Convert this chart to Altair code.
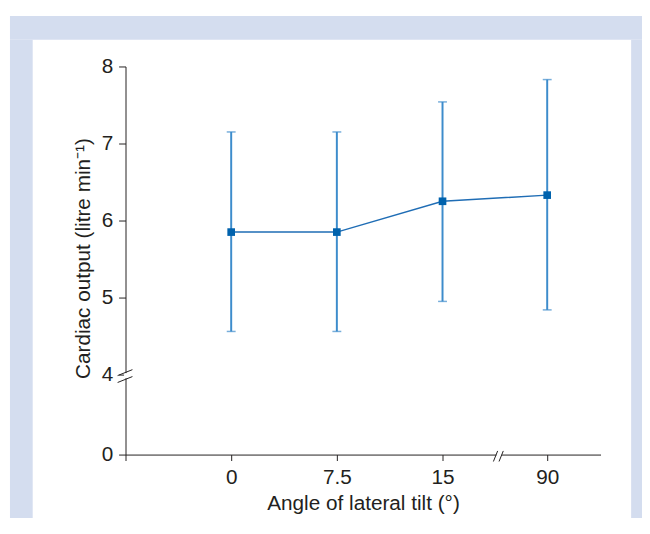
import altair as alt
import pandas as pd

# Data
angles = [0, 7.5, 15, 90]
mean_co = [5.85, 5.85, 6.25, 6.33]
upper_co = [7.15, 7.15, 7.54, 7.83]
lower_co = [4.56, 4.56, 4.95, 4.84]

x_ticks = [-7.5, 0, 7.5, 15, 90]
y_ticks = [0, 2, 4, 4.5, 5, 5.5, 6, 6.5, 7, 7.5, 8]

df = pd.DataFrame({"angle": angles, "mean": mean_co, "upper": upper_co, "lower": lower_co})

W, H = 481, 393
FONT = "Liberation Sans"
INK = "#231f20"
FRAME = "#d4ddef"
EB = "#3d8ccc"
LINE = "#1f6db5"
MARK = "#0062ad"

xscale = alt.Scale(domain=[-7.5, 15, 90, 97.5], range=[0, 321, 427, W], nice=False, zero=False)
yscale = alt.Scale(domain=[0, 4, 8], range=[H, 312, 0], nice=False, zero=False)

minor_test = "datum.value == 2 || datum.value % 1 != 0"

xaxis = alt.Axis(
    values=x_ticks, grid=False,
    labelExpr="datum.value == -7.5 ? '' : toString(datum.value)",
    title="Angle of lateral tilt (°)",
    tickSize=6, labelPadding=23, labelBaseline="alphabetic",
    titleY=56, titleBaseline="alphabetic",
)
yaxis = alt.Axis(
    values=y_ticks, grid=False,
    labelExpr=f"({minor_test}) ? '' : toString(datum.value)",
    tickSize={"condition": {"test": minor_test, "value": 4}, "value": 7},
    title="Cardiac output (litre min⁻¹)",
    labelPadding=6,
    titleAngle=270, titleX=-36, titleY=194,
    titleAlign="center", titleBaseline="alphabetic",
)

one = alt.Data(values=[{"k": 1}])

def strip(x1, x2, y1, y2):
    return alt.Chart(one).mark_rect(color=FRAME).encode(
        x=alt.value(x1), x2=alt.value(x2), y=alt.value(y1), y2=alt.value(y2))

top = strip(-117, 523, -51, -27)
left = strip(-117, -94, -27, 470)
right = strip(512, 523, -27, 470)

base = alt.Chart(df)
xenc = alt.X("angle:Q", scale=xscale, axis=xaxis)

bars = base.mark_rule(color=EB, strokeWidth=2).encode(
    x=xenc, y=alt.Y("lower:Q", scale=yscale, axis=yaxis), y2="upper:Q")
cap_hi = base.mark_tick(color=EB, orient="horizontal", size=9, thickness=1.5).encode(
    x=xenc, y=alt.Y("upper:Q", scale=yscale, axis=yaxis))
cap_lo = base.mark_tick(color=EB, orient="horizontal", size=9, thickness=1.5).encode(
    x=xenc, y=alt.Y("lower:Q", scale=yscale, axis=yaxis))
line = base.mark_line(color=LINE, strokeWidth=1.5).encode(
    x=xenc, y=alt.Y("mean:Q", scale=yscale, axis=yaxis))
pts = base.mark_point(shape="square", filled=True, size=60, color=MARK, opacity=1).encode(
    x=xenc, y=alt.Y("mean:Q", scale=yscale, axis=yaxis))

def brk(xv, yv, **kw):
    return alt.Chart(one).mark_rule(**kw).encode(
        x=alt.datum(xv), x2=alt.datum(xv), y=alt.datum(yv), y2=alt.datum(yv))

# y-axis break at 4
ygap = brk(-7.5, 4, color="white", strokeWidth=3, yOffset=-1.5, y2Offset=3.7)
ys1 = brk(-7.5, 4, color=INK, strokeWidth=1, xOffset=-8, x2Offset=7, yOffset=1, y2Offset=-5)
ys2 = brk(-7.5, 4, color=INK, strokeWidth=1, xOffset=-8, x2Offset=7, yOffset=8, y2Offset=2)
# x-axis break between 15 and 90
xgap = brk(55, 0, color="white", strokeWidth=3, xOffset=-2, x2Offset=3.3)
xs1 = brk(55, 0, color=INK, strokeWidth=1, xOffset=-5, x2Offset=-0.7, yOffset=7, y2Offset=-3.7)
xs2 = brk(55, 0, color=INK, strokeWidth=1, xOffset=0.7, x2Offset=5, yOffset=7, y2Offset=-3.7)

chart = alt.layer(
    top, left, right, bars, cap_hi, cap_lo, line, pts,
    ygap, ys1, ys2, xgap, xs1, xs2,
).properties(
    width=W, height=H,
    autosize=alt.AutoSizeParams(type="none"),
    padding={"left": 119, "top": 56, "right": 42, "bottom": 61},
    background="white",
).configure_axis(
    labelFont=FONT, titleFont=FONT, labelColor=INK, titleColor=INK,
    labelFontSize=21, titleFontSize=21, titleFontWeight="normal",
    domainColor=INK, tickColor=INK, domainWidth=1, tickWidth=1,
).configure_view(stroke=None)

chart.save("out.html", embed_options={"renderer": "svg", "actions": False})
